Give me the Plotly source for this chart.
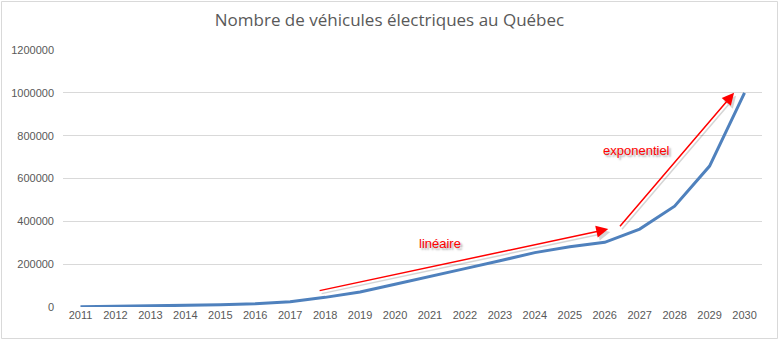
import plotly.graph_objects as go

# Electric vehicles in Québec, by year
years = list(range(2011, 2031))
vehicles = [1000, 3000, 5000, 8000, 10000, 15000, 25000, 45000, 70000, 106000,
            141000, 179000, 216000, 254000, 281000, 302000, 364000, 471000, 658000, 1000000]

y_ticks = [0, 200000, 400000, 600000, 800000, 1000000, 1200000]

# Trend arrows: (tail_x, tail_y, head_x, head_y)
linear_arrow = (2017.8, 75000, 2026.1, 364000)
expo_arrow = (2026.4, 370000, 2029.7, 1000000)
labels = [("linéaire", 2021.3, 295000), ("exponentiel", 2026.9, 733000)]

grey_text = "#595959"
W, H = 779, 340
L, R, T, B = 63, 17, 50, 33
pw, ph = W - L - R, H - T - B

fig = go.Figure()
fig.add_trace(go.Scatter(x=years, y=vehicles, mode="lines",
                         line=dict(color="#4F81BD", width=3), hoverinfo="skip"))

annotations = []
for tx, ty, hx, hy in (linear_arrow, expo_arrow):
    # soft shadow then the red arrow
    for color, dx, dy in (("rgba(0,0,0,0.16)", 2, -3), ("red", 0, 0)):
        annotations.append(dict(x=hx, y=hy, ax=tx, ay=ty, xref="x", yref="y",
                                axref="x", ayref="y", text="", showarrow=True,
                                arrowhead=2, arrowsize=1.6, arrowwidth=1.5,
                                arrowcolor=color, xshift=dx, yshift=dy))
for txt, x, y in labels:
    annotations.append(dict(x=x, y=y, xref="x", yref="y", text=txt, showarrow=False,
                            font=dict(family="Liberation Sans", size=13, color="red",
                                      shadow="2px 2px 2px rgba(0,0,0,0.35)")))


def px_to_paper_x(px):
    return (px - L) / pw


def px_to_paper_y(py):
    return (H - B - py) / ph


fig.update_layout(
    width=W, height=H,
    margin=dict(l=L, r=R, t=T, b=B),
    paper_bgcolor="white", plot_bgcolor="white",
    showlegend=False,
    title=dict(text="Nombre de véhicules électriques au Québec", x=0.5, xanchor="center",
               y=1 - 20 / H, yanchor="middle",
               font=dict(family="Open Sans", size=17, color=grey_text)),
    annotations=annotations,
    shapes=[dict(type="rect", xref="paper", yref="paper",
                 x0=px_to_paper_x(1.5), x1=px_to_paper_x(777.5),
                 y0=px_to_paper_y(338.5), y1=px_to_paper_y(1.5),
                 line=dict(color="#d9d9d9", width=1), layer="below")],
    xaxis=dict(range=[2010.5, 2030.5], tickvals=years, ticktext=[str(y) for y in years],
               showgrid=False, zeroline=False, showline=False, ticks="",
               tickfont=dict(family="Liberation Sans", size=11, color=grey_text)),
    yaxis=dict(range=[0, 1200000], tickvals=y_ticks, ticktext=[str(v) for v in y_ticks],
               showgrid=True, gridcolor="#d9d9d9", gridwidth=1, zeroline=False,
               showline=False, ticks="", ticklabelstandoff=8,
               tickfont=dict(family="Liberation Sans", size=11, color=grey_text)),
)

fig.write_html("out.html")
